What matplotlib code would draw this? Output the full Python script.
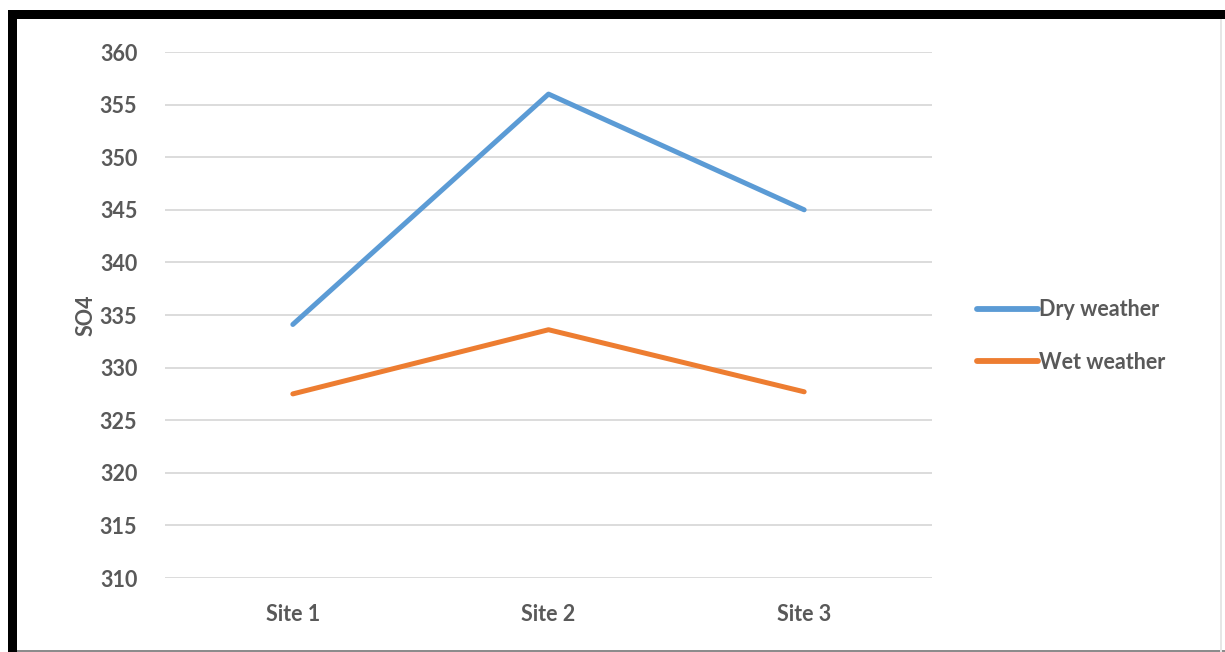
import matplotlib
matplotlib.use("Agg")
import matplotlib.pyplot as plt
from matplotlib.patches import Rectangle
from matplotlib.lines import Line2D

categories = ["Site 1", "Site 2", "Site 3"]
dry = [334.1, 356.0, 345.0]
wet = [327.5, 333.6, 327.7]
yticks = [310, 315, 320, 325, 330, 335, 340, 345, 350, 355, 360]

W, H = 1225, 652
fig = plt.figure(figsize=(W / 100, H / 100), dpi=100)
fig.patch.set_facecolor("white")

font = "Lato"
tc = "#595959"
fs = 15.5

ax = fig.add_axes([165 / W, 1 - 578 / H, (932 - 165) / W, (578 - 52) / H])
x = list(range(len(categories)))
ax.plot(x, dry, color="#5B9BD5", lw=3.6, solid_capstyle="round", label="Dry weather", zorder=3)
ax.plot(x, wet, color="#ED7D31", lw=3.6, solid_capstyle="round", label="Wet weather", zorder=3)
ax.set_xlim(-0.5, 2.5)
ax.set_ylim(310, 360)
ax.set_yticks(yticks)
ax.set_xticks(x)
ax.set_xticklabels(categories)
ax.grid(axis="y", color="#D9D9D9", lw=1.3)
ax.set_axisbelow(True)
for s in ax.spines.values():
    s.set_visible(False)
ax.tick_params(length=0, labelsize=fs, colors=tc)
ax.tick_params(axis="y", pad=20)
ax.tick_params(axis="x", pad=19)
for lab in ax.get_xticklabels() + ax.get_yticklabels():
    lab.set_fontfamily(font)
    lab.set_fontweight("bold")
ax.set_ylabel("SO4", fontsize=fs, fontweight="bold", color=tc, family=font, labelpad=2)

leg = fig.legend(
    handles=[Line2D([], [], color="#5B9BD5", lw=4.2, solid_capstyle="round"),
             Line2D([], [], color="#ED7D31", lw=4.2, solid_capstyle="round")],
    labels=["Dry weather", "Wet weather"],
    loc="center left", bbox_to_anchor=(958 / W, 1 - 336 / H),
    frameon=False, handlelength=2.8, handletextpad=0.05, labelspacing=1.45,
    prop={"family": font, "weight": "bold", "size": fs},
)
for t in leg.get_texts():
    t.set_color(tc)

# black frame (top and left) and light edges
fig.add_artist(Rectangle((8 / W, 1 - 19 / H), 1 - 8 / W, 9 / H, transform=fig.transFigure,
                         facecolor="black", edgecolor="none"))
fig.add_artist(Rectangle((8 / W, 0), 9 / W, 1 - 10 / H, transform=fig.transFigure,
                         facecolor="black", edgecolor="none"))
fig.add_artist(Rectangle((17 / W, 0), 1 - 17 / W, 2.5 / H, transform=fig.transFigure,
                         facecolor="#8C8C8C", edgecolor="none"))
fig.add_artist(Rectangle((1220 / W, 0), 1.5 / W, 1 - 19 / H, transform=fig.transFigure,
                         facecolor="#E6E6E6", edgecolor="none"))

fig.savefig("out.png", dpi=100, facecolor="white")
